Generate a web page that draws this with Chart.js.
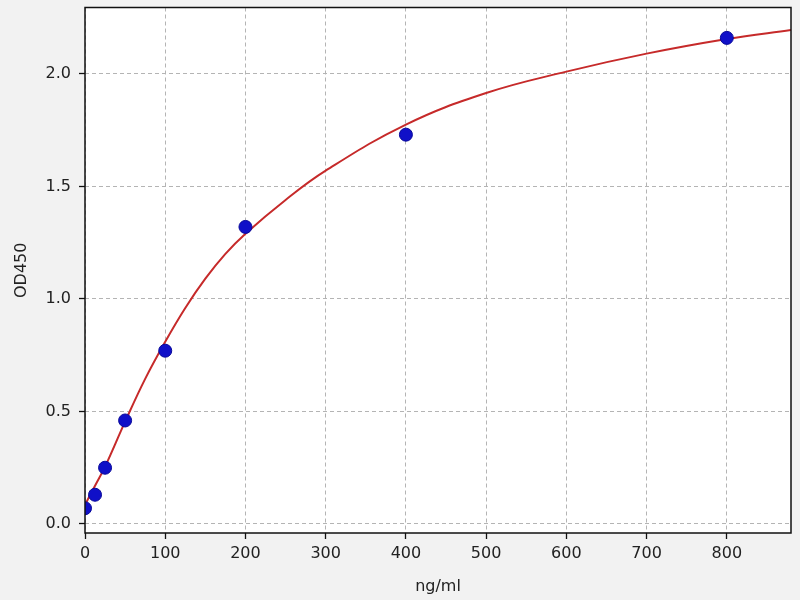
<!DOCTYPE html>
<html>
<head>
<meta charset="utf-8">
<script src="https://cdn.jsdelivr.net/npm/chart.js@4/dist/chart.umd.min.js"></script>
<style>
  body { margin: 0; background: #f2f2f2; }
  canvas { display: block; }
</style>
</head>
<body>
<canvas id="myChart" width="800" height="600"></canvas>
<script>
// standards, ng/ml and OD450
const concentrations = [0, 12.5, 25, 50, 100, 200, 400, 800];
const odValues = [0.07, 0.13, 0.25, 0.46, 0.77, 1.32, 1.73, 2.16];

// fitted curve
const curveX = [0, 12.5, 25, 50, 75, 100, 125, 150, 175, 200, 250, 300, 400, 500, 600, 700, 800, 880];
const curveY = [0.085, 0.17, 0.255, 0.455, 0.645, 0.81, 0.96, 1.09, 1.2, 1.29, 1.44, 1.57, 1.775, 1.915, 2.01, 2.09, 2.155, 2.195];

const xTicks = [0, 100, 200, 300, 400, 500, 600, 700, 800];
const yTicks = [0.0, 0.5, 1.0, 1.5, 2.0];

const toPoints = (xs, ys) => xs.map((x, i) => ({ x: x, y: ys[i] }));

const frame = {
  id: "frame",
  beforeDraw(chart) {
    const { ctx, chartArea: a } = chart;
    ctx.save();
    ctx.fillStyle = "#f2f2f2";
    ctx.fillRect(0, 0, chart.width, chart.height);
    ctx.fillStyle = "#ffffff";
    ctx.fillRect(a.left, a.top, a.right - a.left, a.bottom - a.top);
    ctx.restore();
  },
  afterDraw(chart) {
    const { ctx, chartArea: a } = chart;
    ctx.save();
    ctx.strokeStyle = "#111";
    ctx.lineWidth = 1.5;
    ctx.strokeRect(a.left, a.top, a.right - a.left, a.bottom - a.top);
    ctx.restore();
  },
};

const tickFont = { family: "DejaVu Sans", size: 16 };
const gridOpts = { color: "#b4b4b4", lineWidth: 1, tickColor: "#111", tickLength: 6, tickWidth: 1.3, tickBorderDash: [] };

const ctx = document.getElementById("myChart");
const chart = new Chart(ctx, {
  type: "scatter",
  data: {
    datasets: [
      {
        data: toPoints(concentrations, odValues),
        backgroundColor: "#1010c8",
        borderColor: "#08089a",
        borderWidth: 1,
        pointRadius: 6.5,
        order: 0,
      },
      {
        type: "line",
        data: toPoints(curveX, curveY),
        borderColor: "#c62a2a",
        borderWidth: 2,
        pointRadius: 0,
        fill: false,
        tension: 0.4,
        order: 1,
      },
    ],
  },
  options: {
    responsive: false,
    animation: false,
    events: [],
    layout: { padding: { top: 0, right: 9, left: 0, bottom: 0 } },
    plugins: { legend: { display: false }, tooltip: { enabled: false } },
    scales: {
      x: {
        type: "linear",
        min: 0,
        max: 880,
        afterFit: (s) => { s.height = 67; s.paddingLeft = 0; s.paddingRight = 0; },
        afterBuildTicks: (s) => { s.ticks = xTicks.map((v) => ({ value: v })); },
        ticks: { font: tickFont, color: "#222", padding: 5, maxRotation: 0 },
        grid: gridOpts,
        border: { display: false, dash: [4, 3] },
        title: { display: true, text: "ng/ml", font: tickFont, color: "#222", padding: { top: 1 } },
      },
      y: {
        type: "linear",
        min: -0.04,
        max: 2.295,
        afterFit: (s) => { s.width = 85; s.paddingTop = 0; s.paddingBottom = 0; },
        afterBuildTicks: (s) => { s.ticks = yTicks.map((v) => ({ value: v })); },
        ticks: { font: tickFont, color: "#222", padding: 8, callback: (v) => v.toFixed(1) },
        grid: gridOpts,
        border: { display: false, dash: [4, 3] },
        title: { display: true, text: "OD450", font: tickFont, color: "#222", padding: { top: 12 } },
      },
    },
  },
  plugins: [frame],
});
</script>
</body>
</html>
